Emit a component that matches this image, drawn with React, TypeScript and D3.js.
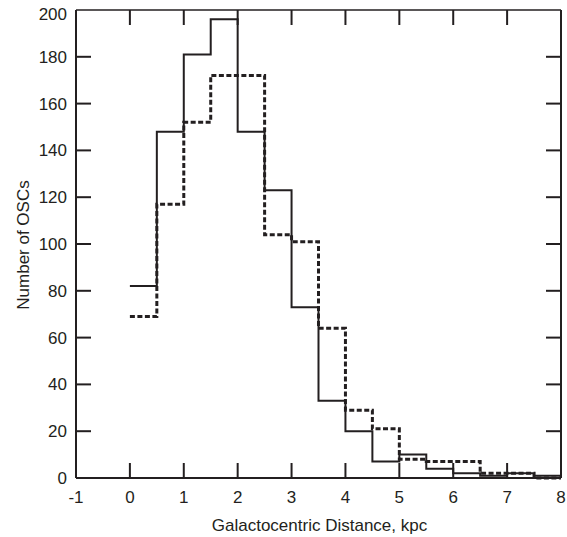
import React from "react";
import * as d3 from "d3";

const binEdges = [0, 0.5, 1, 1.5, 2, 2.5, 3, 3.5, 4, 4.5, 5, 5.5, 6, 6.5, 7, 7.5, 8];
const solidCounts = [82, 148, 181, 196, 148, 123, 73, 33, 20, 7, 10, 4, 2, 1, 2, 1];
const dashedCounts = [69, 117, 152, 172, 172, 104, 101, 64, 29, 21, 8, 7, 7, 2, 2, 0];
const xTicks = [-1, 0, 1, 2, 3, 4, 5, 6, 7, 8];
const yTicks = [0, 20, 40, 60, 80, 100, 120, 140, 160, 180, 200];

const W = 567;
const H = 537;
const L = 76, R = 561, T = 10, B = 478;
const INK = "#231f20";
const FONT = "'Liberation Sans', Arial, sans-serif";
const FS = 17;

export default function App() {
  const x = d3.scaleLinear().domain([-1, 8]).range([L, R]);
  const y = d3.scaleLinear().domain([0, 200]).range([B, T]);
  const stepPts = (counts: number[]) =>
    binEdges.map((e, i) => [e, counts[Math.min(i, counts.length - 1)]] as [number, number]);
  const line = d3
    .line<[number, number]>()
    .x((d) => x(d[0]))
    .y((d) => y(d[1]))
    .curve(d3.curveStepAfter);
  const tl = 15;
  return (
    <div style={{ position: "fixed", left: 0, top: 0 }}>
      <svg width={W} height={H} style={{ display: "block", background: "#fff" }}>
        <path d={line(stepPts(dashedCounts)) || ""} fill="none" stroke={INK} strokeWidth={3} strokeDasharray="5,2.5" />
        <path d={line(stepPts(solidCounts)) || ""} fill="none" stroke={INK} strokeWidth={2} />
        {/* frame */}
        <line x1={L} x2={R} y1={T} y2={T} stroke={INK} strokeWidth={1.3} />
        <line x1={L} x2={R} y1={B} y2={B} stroke={INK} strokeWidth={2} />
        <line x1={L} x2={L} y1={T} y2={B} stroke={INK} strokeWidth={2} />
        <line x1={R} x2={R} y1={T} y2={B} stroke={INK} strokeWidth={2} />
        {xTicks.slice(1, -1).map((t) => (
          <g key={"xt" + t}>
            <line x1={x(t)} x2={x(t)} y1={B} y2={B - tl} stroke={INK} strokeWidth={2} />
            <line x1={x(t)} x2={x(t)} y1={T} y2={T + tl} stroke={INK} strokeWidth={2} />
          </g>
        ))}
        {yTicks.slice(1, -1).map((t) => (
          <g key={"yt" + t}>
            <line x1={L} x2={L + tl} y1={y(t)} y2={y(t)} stroke={INK} strokeWidth={2} />
            <line x1={R} x2={R - tl} y1={y(t)} y2={y(t)} stroke={INK} strokeWidth={2} />
          </g>
        ))}
        {xTicks.map((t) => (
          <text key={"xl" + t} x={x(t)} y={503} textAnchor="middle" fontFamily={FONT} fontSize={FS} fill={INK}>
            {t}
          </text>
        ))}
        {yTicks.map((t) => (
          <text key={"yl" + t} x={67} y={Math.max(y(t) + 6, T + 10)} textAnchor="end" fontFamily={FONT} fontSize={FS} fill={INK}>
            {t}
          </text>
        ))}
        <text x={(L + R) / 2 + 1} y={531} textAnchor="middle" fontFamily={FONT} fontSize={FS} fill={INK}>
          Galactocentric Distance, kpc
        </text>
        <text
          transform={`translate(29, 245) rotate(-90)`}
          textAnchor="middle"
          fontFamily={FONT}
          fontSize={FS}
          fill={INK}
        >
          Number of OSCs
        </text>
      </svg>
    </div>
  );
}
